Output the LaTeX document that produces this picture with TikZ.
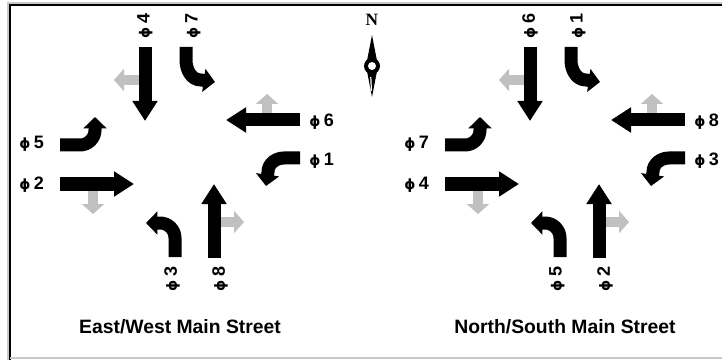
\documentclass[tikz,border=0pt]{standalone}
\usepackage{fontspec}
\setmainfont{Liberation Sans}
\newfontfamily\serifbold{Liberation Serif}
\newfontfamily\phifont{DejaVu Sans}
\usetikzlibrary{arrows.meta}

\definecolor{turngray}{RGB}{192,192,192}
\definecolor{framegray}{RGB}{200,200,200}

\newcommand\ph{{\phifont\bfseries\fontsize{10.5}{12}\selectfont ϕ}\hspace{2.6pt}}

\tikzset{
  througharrow/.style={draw=black, line width=9.75pt, line cap=butt,
    -{Triangle[length=15pt,width=18pt]}},
  turnarrow/.style={draw=black, line width=9.75pt, line cap=butt,
    -{Triangle[length=8.5pt,width=17pt]}},
  permarrow/.style={draw=turngray, line width=7.5pt, line cap=butt,
    -{Triangle[length=7.5pt,width=16.5pt]}},
  phaselabel/.style={font=\bfseries\fontsize{13.5}{15}\selectfont, inner sep=0pt},
  streetname/.style={font=\bfseries\fontsize{14.5}{16}\selectfont, inner sep=0pt},
}

% One intersection: #1 name prefix, then the phase numbers for
% SB through, SB left, WB through, WB left, EB left, EB through, NB left, NB through
\newcommand\junction[9]{%
  % permissive right turns
  \draw[permarrow] (141,80) -- (114,80);
  \draw[permarrow] (267,116) -- (267,94);
  \draw[permarrow] (93,188) -- (93,214);
  \draw[permarrow] (218,222) -- (244,222);
  % protected movements
  \draw[througharrow] (145,47) -- (145,121);
  \draw[turnarrow] (186,47) -- (186,60) to[out=-90,in=180] (201,80) -- (215,82);
  \draw[througharrow] (300,120) -- (226,120);
  \draw[turnarrow] (300,158) -- (284,158) to[out=180,in=90] (268,172) -- (266,186);
  \draw[turnarrow] (60,145) -- (80,145) to[out=0,in=-90] (95,130) -- (95,117);
  \draw[througharrow] (60,184) -- (134,184);
  \draw[turnarrow] (175,257) -- (175,238) to[out=90,in=0] (160,223) -- (146,223);
  \draw[througharrow] (214,258) -- (214,184);
  % phase numbers
  \node[phaselabel, rotate=90] (#1-sbt) at (145,26) {\ph#2};
  \node[phaselabel, rotate=90] (#1-sbl) at (193,26) {\ph#3};
  \node[phaselabel, anchor=west] (#1-wbt) at (309,122) {\ph#4};
  \node[phaselabel, anchor=west] (#1-wbl) at (309,161) {\ph#5};
  \node[phaselabel, anchor=west] (#1-ebl) at (19,144) {\ph#6};
  \node[phaselabel, anchor=west] (#1-ebt) at (19,185) {\ph#7};
  \node[phaselabel, rotate=90] (#1-nbl) at (172,279) {\ph#8};
  \node[phaselabel, rotate=90] (#1-nbt) at (220,279) {\ph#9};
}

\begin{document}
\begin{tikzpicture}[x=0.75pt, y=-0.75pt]
  \useasboundingbox (0,0) rectangle (722,360);
  \fill[white] (0,0) rectangle (722,360);

  % frame
  \draw[framegray, line width=0.9pt] (8,360) -- (8,3) -- (722,3);
  \draw[black, line width=1.5pt] (10,360) -- (10,5) -- (722,5);
  \draw[framegray, line width=0.9pt] (10,358) -- (722,358);

  % left intersection
  \junction{ew}{4}{7}{6}{1}{5}{2}{3}{8}
  \node[streetname] (ewtitle) at (180,327) {East/West Main Street};

  % right intersection
  \begin{scope}[xshift=288.75pt]
    \junction{ns}{6}{1}{8}{3}{7}{4}{5}{2}
  \end{scope}
  \node[streetname] (nstitle) at (565,327) {North/South Main Street};

  % north arrow
  \node[font=\serifbold\bfseries\fontsize{13}{14}\selectfont, inner sep=0pt] (north) at (372,20) {N};
  \fill[black] (372,35) -- (378,66) -- (372,97) -- (366,66) -- cycle;
  \fill[black] (372,66) circle[radius=6pt];
  \fill[white] (372,66) circle[radius=3pt];
  \draw[white, line width=0.9pt] (370.8,77) -- (371.4,91);
\end{tikzpicture}
\end{document}
